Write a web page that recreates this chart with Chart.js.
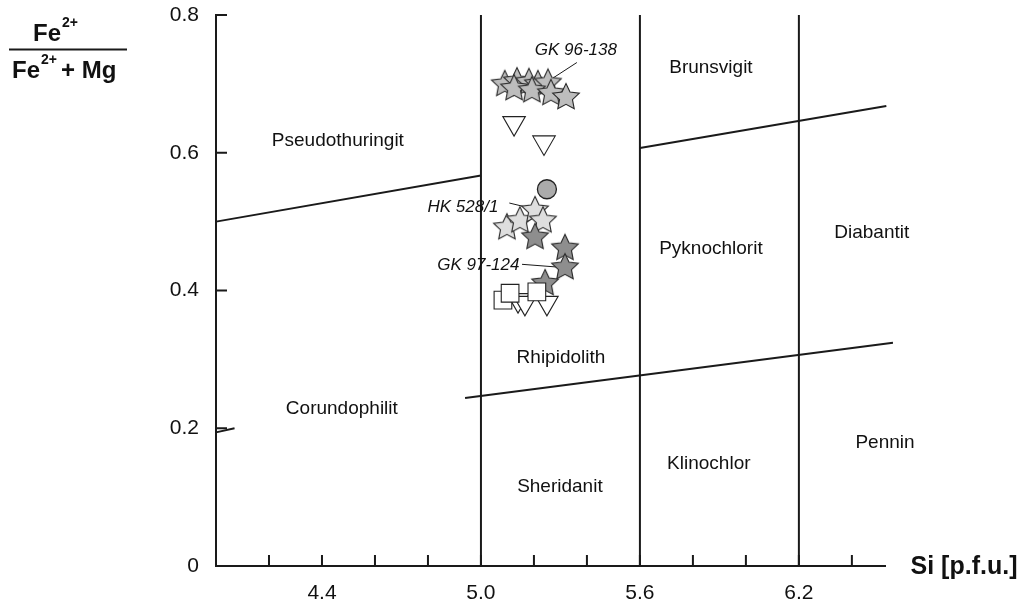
<!DOCTYPE html>
<html>
<head>
<meta charset="utf-8">
<script src="https://cdn.jsdelivr.net/npm/chart.js@4.4.0/dist/chart.umd.min.js"></script>
<style>
  body { margin: 0; background: #fff; }
  #wrap { width: 1033px; height: 599px; }
</style>
</head>
<body>
<div id="wrap"><canvas id="chlorit"></canvas></div>
<script>
// Si [p.f.u.] vs Fe2+/(Fe2+ + Mg)
const gk96_138 = [[5.09,0.700],[5.136,0.704],[5.181,0.703],[5.215,0.700],[5.253,0.702],[5.125,0.694],[5.192,0.691],[5.264,0.687],[5.321,0.681]];
const hk528_1 = [[5.098,0.492],[5.147,0.502],[5.204,0.517],[5.234,0.502]];
const gk97_124 = [[5.204,0.478],[5.317,0.462],[5.317,0.434],[5.242,0.411]];
const dreieck = [[5.125,0.643],[5.238,0.615],[5.14,0.386],[5.166,0.382],[5.249,0.382]];
const quadrat = [[5.083,0.386],[5.11,0.396],[5.211,0.398]];
const kreis = [[5.249,0.547]];

const siGrenzen = [5.0, 5.6, 6.2];
const feGrenzen = [
  [[4.0,0.50],[5.0,0.567]],
  [[5.6,0.607],[6.53,0.668]],
  [[4.94,0.244],[6.555,0.324]],
  [[4.0,0.194],[4.07,0.200]]
];
const fuehrung = [
  [[5.362,0.731],[5.25,0.703]],
  [[5.107,0.527],[5.215,0.517]],
  [[5.155,0.438],[5.29,0.434]]
];

const xTicks = [4.2,4.4,4.6,4.8,5.0,5.2,5.4,5.6,5.8,6.0,6.2,6.4];
const xLabels = ['4.4','5.0','5.6','6.2'];
const yTicks = [0,0.2,0.4,0.6,0.8];
const yLabels = ['0','0.2','0.4','0.6','0.8'];

const felder = [
  ['Brunsvigit',5.868,0.723],['Pseudothuringit',4.46,0.618],['Pyknochlorit',5.868,0.460],
  ['Diabantit',6.475,0.484],['Rhipidolith',5.302,0.303],['Corundophilit',4.475,0.229],
  ['Klinochlor',5.86,0.148],['Pennin',6.525,0.179],['Sheridanit',5.298,0.115]
];
const proben = [['GK 96-138',5.358,0.749],['HK 528/1',4.932,0.521],['GK 97-124',4.99,0.437]];

function stern(fill) {
  const c = document.createElement('canvas');
  c.width = 32; c.height = 32;
  const g = c.getContext('2d');
  g.beginPath();
  for (let i = 0; i < 10; i++) {
    const r = i % 2 ? 6.8 : 14;
    const a = -Math.PI / 2 + i * Math.PI / 5;
    g.lineTo(16 + r * Math.cos(a), 16.5 + r * Math.sin(a));
  }
  g.closePath();
  g.fillStyle = fill; g.fill();
  g.strokeStyle = '#2a2a2a'; g.lineWidth = 1.1; g.stroke();
  return c;
}

const pts = a => a.map(p => ({x: p[0], y: p[1]}));
const linie = (a, w) => ({data: pts(a), showLine: true, pointRadius: 0, borderColor: '#1a1a1a', borderWidth: w, clip: false});

const datasets = [
  {data: pts(quadrat), pointStyle: 'rect', pointRadius: 12.5, backgroundColor: '#fff', borderColor: '#222', borderWidth: 1.1},
  {data: pts(dreieck), pointStyle: 'triangle', rotation: 180, pointRadius: 13, backgroundColor: '#fff', borderColor: '#222', borderWidth: 1.1},
  {data: pts(gk97_124), pointStyle: stern('#8e8e8e'), pointRadius: 14},
  {data: pts(hk528_1), pointStyle: stern('#dedede'), pointRadius: 14},
  {data: pts(gk96_138), pointStyle: stern('#bdbdbd'), pointRadius: 14},
  {data: pts(kreis), pointStyle: 'circle', pointRadius: 9.5, backgroundColor: '#ababab', borderColor: '#222', borderWidth: 1.3}
];
fuehrung.forEach(f => datasets.push(linie(f, 1)));
feGrenzen.forEach(f => datasets.push(linie(f, 2)));
siGrenzen.forEach(s => datasets.push(linie([[s,0],[s,0.8]], 2)));

const beschriftung = {
  id: 'beschriftung',
  afterDatasetsDraw(chart) {
    const ctx = chart.ctx, xs = chart.scales.x, ys = chart.scales.y;
    ctx.save();
    ctx.strokeStyle = '#1a1a1a'; ctx.lineWidth = 2;
    ctx.beginPath();
    xTicks.forEach(v => { const px = xs.getPixelForValue(v); ctx.moveTo(px, ys.bottom); ctx.lineTo(px, ys.bottom - 11); });
    yTicks.slice(1).forEach(v => { const py = ys.getPixelForValue(v); ctx.moveTo(xs.left, py); ctx.lineTo(xs.left + 11, py); });
    ctx.stroke();

    ctx.fillStyle = '#111';
    ctx.textAlign = 'center'; ctx.textBaseline = 'middle';
    ctx.font = '19px "Liberation Sans", Arial, sans-serif';
    felder.forEach(f => ctx.fillText(f[0], xs.getPixelForValue(f[1]), ys.getPixelForValue(f[2])));
    ctx.font = 'italic 17px "Liberation Sans", Arial, sans-serif';
    proben.forEach(p => ctx.fillText(p[0], xs.getPixelForValue(p[1]), ys.getPixelForValue(p[2])));

    ctx.font = 'bold 25px "Liberation Sans", Arial, sans-serif';
    ctx.fillText('Si [p.f.u.]', 964, 567);

    // y-axis title as fraction
    ctx.textAlign = 'left'; ctx.textBaseline = 'alphabetic';
    const grossF = 'bold 24px "Liberation Sans", Arial, sans-serif';
    const kleinF = 'bold 14px "Liberation Sans", Arial, sans-serif';
    ctx.font = grossF;
    const feW = ctx.measureText('Fe').width;
    ctx.fillText('Fe', 33, 41);
    ctx.fillText('Fe', 12, 78);
    ctx.font = kleinF;
    const hochW = ctx.measureText('2+').width;
    ctx.fillText('2+', 33 + feW + 1, 27);
    ctx.fillText('2+', 12 + feW + 1, 64);
    ctx.font = grossF;
    ctx.fillText('+ Mg', 12 + feW + hochW + 5, 78);
    ctx.beginPath(); ctx.moveTo(9, 49.5); ctx.lineTo(127, 49.5); ctx.stroke();
    ctx.restore();
  }
};

new Chart(document.getElementById('chlorit'), {
  type: 'scatter',
  data: {datasets: datasets},
  options: {
    responsive: true,
    maintainAspectRatio: false,
    animation: false,
    layout: {padding: {top: 15, right: 148, left: 0, bottom: 0}},
    plugins: {legend: {display: false}, tooltip: {enabled: false}},
    scales: {
      x: {
        type: 'linear', min: 4.0, max: 6.525,
        afterBuildTicks: s => { s.ticks = xTicks.map(v => ({value: v})); },
        afterFit: s => { s.height = 33; s.paddingLeft = 0; s.paddingRight = 0; },
        grid: {display: false},
        border: {display: true, color: '#1a1a1a', width: 2},
        ticks: {
          padding: 7, color: '#111',
          font: {family: '"Liberation Sans", Arial, sans-serif', size: 21},
          callback: v => { const t = v.toFixed(1); return xLabels.includes(t) ? t : ''; }
        }
      },
      y: {
        type: 'linear', min: 0, max: 0.8,
        afterBuildTicks: s => { s.ticks = yTicks.map(v => ({value: v})); },
        afterFit: s => { s.width = 216; s.paddingTop = 0; s.paddingBottom = 0; },
        grid: {display: false},
        border: {display: true, color: '#1a1a1a', width: 2},
        ticks: {
          padding: 9, color: '#111',
          font: {family: '"Liberation Sans", Arial, sans-serif', size: 21},
          callback: (v, i) => yLabels[i]
        }
      }
    }
  },
  plugins: [beschriftung]
});
</script>
</body>
</html>
